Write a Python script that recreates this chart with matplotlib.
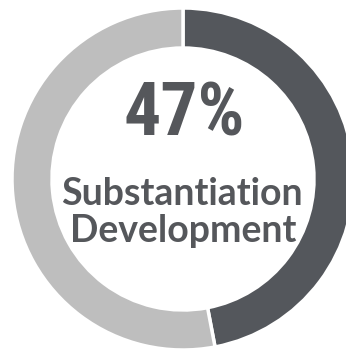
import matplotlib.pyplot as plt

# data
labels = ['Substantiation Development', 'Other']
values = [47, 53]
colors = ['#54575c', '#bebebe']
big_text = '47%'
caption_lines = ['Substantiation', 'Development']

fig = plt.figure(figsize=(3.46, 3.52), dpi=100)
ax = fig.add_axes([0, 0, 1, 1])

# donut, centre partly outside the canvas on the right / bottom
ax.pie(values, colors=colors, startangle=90, counterclock=False,
       center=(183, 173), radius=171,
       wedgeprops=dict(width=40, edgecolor='white', linewidth=2.5))

ax.set_xlim(0, 346)
ax.set_ylim(0, 352)
ax.set_aspect('equal')
ax.axis('off')

ax.text(184, 352 - 136, big_text, ha='center', va='baseline',
        fontsize=53, fontweight='bold', family='Roboto Condensed',
        color='#55575b')
ax.text(182, 352 - 205, caption_lines[0], ha='center', va='baseline',
        fontsize=27, fontweight='bold', family='Lato', color='#55575b')
ax.text(183, 352 - 242, caption_lines[1], ha='center', va='baseline',
        fontsize=27, fontweight='bold', family='Lato', color='#55575b')

plt.savefig('out.png', dpi=100)
